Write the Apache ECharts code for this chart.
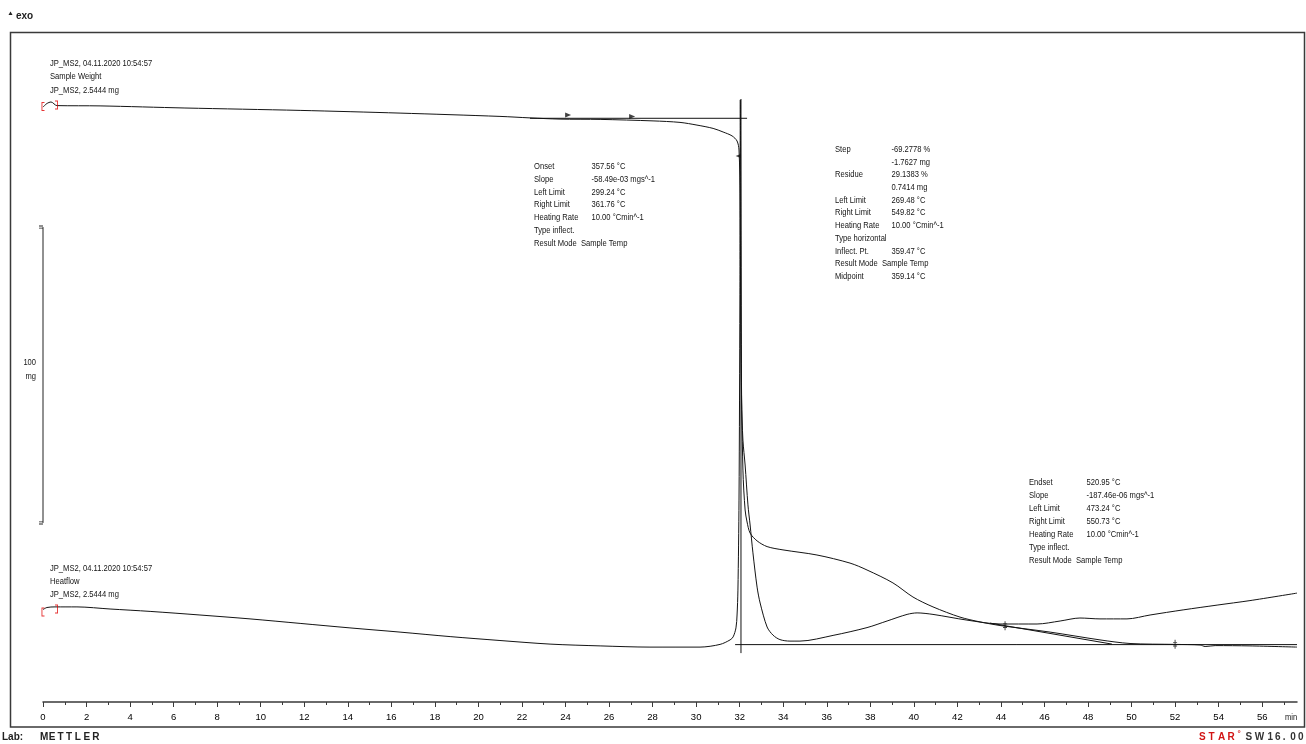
<!DOCTYPE html>
<html>
<head>
<meta charset="utf-8">
<title>JP_MS2 Sample Weight / Heatflow</title>
<script src="https://cdn.jsdelivr.net/npm/echarts/dist/echarts.min.js"></script>
<style>
html, body { margin: 0; padding: 0; background: #fff; }
#chart { width: 1306px; height: 744px; }
</style>
</head>
<body>
<div id="chart"></div>
<script>
// sample weight curve (min, mg)
var tgaTime = [0, 0.18, 0.37, 0.64, 2.62, 6.52, 11.81, 16.40, 20.99, 22.37, 23.75, 25.59, 28.02, 29.26,
  30.04, 30.78, 31.24, 31.65, 31.88, 31.97, 32.02, 32.06, 32.15, 32.25, 32.34, 32.48, 32.80, 33.26,
  33.99, 35.55, 37.07, 37.85, 39.04, 39.96, 40.88, 42.12, 43.04, 43.96, 46.26, 48.55, 49.93, 52.00,
  53.15, 53.38, 53.84, 55.44, 57.60];
var tgaMass = [2.533, 2.545, 2.550, 2.538, 2.537, 2.530, 2.522, 2.513, 2.502, 2.497, 2.493, 2.492, 2.487, 2.482,
  2.473, 2.462, 2.450, 2.437, 2.420, 2.390, 2.223, 1.723, 1.323, 1.190, 1.150, 1.113, 1.087, 1.068,
  1.057, 1.040, 1.013, 0.990, 0.947, 0.900, 0.867, 0.833, 0.817, 0.805, 0.783, 0.757, 0.745, 0.742,
  0.740, 0.735, 0.738, 0.737, 0.733];

// heatflow curve (min, mW)
var dscTime = [0, 0.18, 0.55, 1.56, 3.08, 4.92, 7.21, 9.51, 11.81, 14.10, 16.40, 18.70, 20.99, 23.29,
  25.59, 27.88, 30.18, 31.10, 31.56, 31.70, 31.83, 31.88, 31.92, 31.97, 32.01, 32.03, 32.06, 32.09,
  32.15, 32.25, 32.38, 32.48, 32.61, 32.80, 32.94, 33.26, 33.53, 33.85, 34.31, 34.77, 36.29, 37.85,
  38.77, 39.69, 40.15, 40.88, 42.44, 43.96, 45.66, 46.72, 47.63, 48.55, 49.79, 50.85, 52.37, 53.93,
  55.44, 57.60];
var dscHeat = [1.08, 1.15, 1.17, 1.17, 1.10, 1.02, 0.90, 0.77, 0.62, 0.47, 0.33, 0.18, 0.05, -0.07,
  -0.13, -0.17, -0.17, -0.08, 0.07, 0.17, 0.47, 0.90, 1.73, 4.73, 11.40, 18.07, 13.07, 8.07,
  6.73, 5.90, 4.57, 3.90, 2.97, 1.83, 1.30, 0.50, 0.23, 0.08, 0.03, 0.03, 0.22, 0.48,
  0.70, 0.92, 0.97, 0.92, 0.73, 0.60, 0.60, 0.70, 0.80, 0.77, 0.77, 0.90, 1.07, 1.23,
  1.38, 1.63];

// evaluation lines and markers (min, mg)
var onsetTangent = [[22.37, 2.4957], [32.34, 2.4957]];
var inflectLine = [[32.06, 2.56], [32.06, 0.713]];
var residueLine = [[31.79, 0.7413], [57.6, 0.7413]];
var endsetTangent = [[43.5, 0.813], [49.1, 0.743]];
var onsetMarks = [[24.12, 2.507], [27.06, 2.502]];
var endsetMarks = [[44.19, 0.804], [52.0, 0.7425]];
var dropMark = [[31.93, 2.37]];
var scaleBar = [[0, 2.133], [0, 1.147]];
var tgaBracket = [[0, 2.535], [0.62, 2.54]];
var dscBracket = [[0, 1.0], [0.62, 1.1]];

var majorTicks = [0, 2, 4, 6, 8, 10, 12, 14, 16, 18, 20, 22, 24, 26, 28, 30, 32, 34, 36, 38, 40, 42, 44, 46, 48, 50, 52, 54, 56];
var minorTicks = [1, 3, 5, 7, 9, 11, 13, 15, 17, 19, 21, 23, 25, 27, 29, 31, 33, 35, 37, 39, 41, 43, 45, 47, 49, 51, 53, 55, 57];

var tgaHeader = ['JP_MS2, 04.11.2020 10:54:57', 'Sample Weight', 'JP_MS2, 2.5444 mg'];
var dscHeader = ['JP_MS2, 04.11.2020 10:54:57', 'Heatflow', 'JP_MS2, 2.5444 mg'];

var onsetLabels = ['Onset', 'Slope', 'Left Limit', 'Right Limit', 'Heating Rate', 'Type inflect.', 'Result Mode  Sample Temp'];
var onsetValues = ['357.56 °C', '-58.49e-03 mgs^-1', '299.24 °C', '361.76 °C', '10.00 °Cmin^-1', '', ''];
var stepLabels = ['Step', '', 'Residue', '', 'Left Limit', 'Right Limit', 'Heating Rate', 'Type horizontal', 'Inflect. Pt.', 'Result Mode  Sample Temp', 'Midpoint'];
var stepValues = ['-69.2778 %', '-1.7627 mg', '29.1383 %', '0.7414 mg', '269.48 °C', '549.82 °C', '10.00 °Cmin^-1', '', '359.47 °C', '', '359.14 °C'];
var endsetLabels = ['Endset', 'Slope', 'Left Limit', 'Right Limit', 'Heating Rate', 'Type inflect.', 'Result Mode  Sample Temp'];
var endsetValues = ['520.95 °C', '-187.46e-06 mgs^-1', '473.24 °C', '550.73 °C', '10.00 °Cmin^-1', '', ''];

var FONT = '"Liberation Sans", Arial, sans-serif';
var INK = '#141414';

function pairs(xs, ys) {
  return xs.map(function (x, i) { return [x, ys[i]]; });
}

// narrow text: the instrument font is condensed, so squeeze horizontally
function txt(x, y, s, size, bold, color, sx) {
  return {
    type: 'text', x: x, y: y, silent: true, scaleX: sx || 0.8,
    style: {
      text: s, fill: color || INK, verticalAlign: 'middle',
      font: (bold ? 'bold ' : '') + (size || 9.5) + 'px ' + FONT
    }
  };
}

function spaced(x0, pitch, y, s, size, color) {
  var out = [];
  for (var i = 0; i < s.length; i++) {
    if (s[i] !== ' ') out.push(txt(x0 + i * pitch, y, s[i], size, true, color, 1));
  }
  return out;
}

var graphics = [];
graphics.push({
  type: 'rect', silent: true, z: -1,
  shape: { x: 10.5, y: 32.5, width: 1294, height: 694.5 },
  style: { fill: 'none', stroke: '#3a3a3a', lineWidth: 1.5 }
});
// exo marker
graphics.push({ type: 'polygon', silent: true, shape: { points: [[8.5, 15], [10.5, 11.5], [12.5, 15]] }, style: { fill: '#222' } });
graphics.push(txt(16, 16, 'exo', 10, true, '#222', 1));

tgaHeader.forEach(function (s, i) { graphics.push(txt(50, 63.3 + i * 13.3, s)); });
dscHeader.forEach(function (s, i) { graphics.push(txt(50, 568.3 + i * 12.9, s)); });

function box(labels, values, xl, xv, y0, dy) {
  labels.forEach(function (s, i) {
    if (s) graphics.push(txt(xl, y0 + i * dy, s));
    if (values[i]) graphics.push(txt(xv, y0 + i * dy, values[i]));
  });
}
box(onsetLabels, onsetValues, 534, 591.5, 166, 12.95);
box(stepLabels, stepValues, 835, 891.5, 149.3, 12.7);
box(endsetLabels, endsetValues, 1029, 1086.5, 482, 13.05);

// scale bar text
graphics.push({ type: 'text', x: 36, y: 362.7, silent: true, scaleX: 0.84, style: { text: '100', align: 'right', verticalAlign: 'middle', fill: INK, font: '9px ' + FONT } });
graphics.push({ type: 'text', x: 36, y: 376.7, silent: true, scaleX: 0.84, style: { text: 'mg', align: 'right', verticalAlign: 'middle', fill: INK, font: '9px ' + FONT } });

// unit
graphics.push(txt(1285, 717, 'min', 9.5));

// footer
graphics.push(txt(2, 737.5, 'Lab:', 10, true, '#222', 1));
graphics = graphics.concat(spaced(40, 8.7, 737.5, 'METTLER', 10, '#222'));
graphics = graphics.concat(spaced(1199, 9.5, 737.5, 'STAR', 10, '#d11414'));
graphics.push(txt(1237.5, 734, '°', 8, true, '#d11414', 1));
graphics = graphics.concat(spaced(1245.5, 9.3, 737.5, 'SW', 10, '#333'));
graphics = graphics.concat(spaced(1267.5, 7.6, 737.5, '16.00', 10, '#333'));

function curve(data, yIdx) {
  return {
    type: 'line', xAxisIndex: 0, yAxisIndex: yIdx, data: data,
    showSymbol: false, smooth: 0.3, silent: true,
    lineStyle: { color: INK, width: 1 }
  };
}
function straight(data) {
  return {
    type: 'line', xAxisIndex: 0, yAxisIndex: 0, data: data,
    showSymbol: false, silent: true, lineStyle: { color: '#111', width: 1 }
  };
}
function marks(data, yIdx, symbol, size, rotate, color) {
  return {
    type: 'scatter', xAxisIndex: 0, yAxisIndex: yIdx, data: data, silent: true,
    symbol: symbol, symbolSize: size, symbolRotate: rotate || 0,
    itemStyle: { color: color || '#111' }, z: 5
  };
}

var leftBracket = 'path://M0,0H4V1H1.2V9H4V10H0Z';
var rightBracket = 'path://M0,0H4V10H0V9H2.8V1H0Z';
var dagger = 'path://M1.6,0H2.6V10H1.6Z M0,2.4H4.2V3.4H0Z M0,6.4H4.2V7.4H0Z';

var chart = echarts.init(document.getElementById('chart'), null, { renderer: 'canvas' });
chart.setOption({
  animation: false,
  backgroundColor: '#fff',
  textStyle: { fontFamily: FONT },
  grid: { left: 43, right: 9, top: 42, bottom: 42, containLabel: false },
  xAxis: [
    {
      type: 'value', min: 0, max: 57.6, position: 'bottom',
      axisLine: { onZero: false, lineStyle: { color: '#3a3a3a', width: 1.5 } },
      axisTick: { length: 5, customValues: majorTicks, lineStyle: { color: '#3a3a3a', width: 1 } },
      axisLabel: { customValues: majorTicks, fontSize: 9.5, color: '#000', margin: 10, fontFamily: FONT },
      splitLine: { show: false }
    },
    {
      type: 'value', min: 0, max: 57.6, position: 'bottom',
      axisLine: { show: false, onZero: false },
      axisTick: { length: 3, customValues: minorTicks, lineStyle: { color: '#3a3a3a', width: 1 } },
      axisLabel: { show: false },
      splitLine: { show: false }
    }
  ],
  yAxis: [
    { type: 'value', min: 0.55, max: 2.75, show: false },
    { type: 'value', min: -2, max: 20, show: false }
  ],
  graphic: graphics,
  series: [
    curve(pairs(tgaTime, tgaMass), 0),
    curve(pairs(dscTime, dscHeat), 1),
    straight(onsetTangent),
    straight(inflectLine),
    straight(residueLine),
    straight(endsetTangent),
    {
      type: 'line', xAxisIndex: 0, yAxisIndex: 0, data: scaleBar, silent: true,
      symbol: 'path://M0,0H5V1H0Z M0,2.2H5V3.2H0Z', symbolSize: [4, 3], symbolOffset: [-2, 0],
      showSymbol: true, itemStyle: { color: '#222' }, lineStyle: { color: '#222', width: 1 }
    },
    marks(onsetMarks, 0, 'triangle', [5, 6], -90),
    marks(dropMark, 0, 'triangle', [4, 5], 90),
    marks(endsetMarks, 0, dagger, [4, 9], 0),
    marks([tgaBracket[0]], 0, leftBracket, [3, 9], 0, '#e00000'),
    marks([tgaBracket[1]], 0, rightBracket, [3, 9], 0, '#e00000'),
    marks([dscBracket[0]], 1, leftBracket, [3, 9], 0, '#e00000'),
    marks([dscBracket[1]], 1, rightBracket, [3, 9], 0, '#e00000')
  ]
});
</script>
</body>
</html>
